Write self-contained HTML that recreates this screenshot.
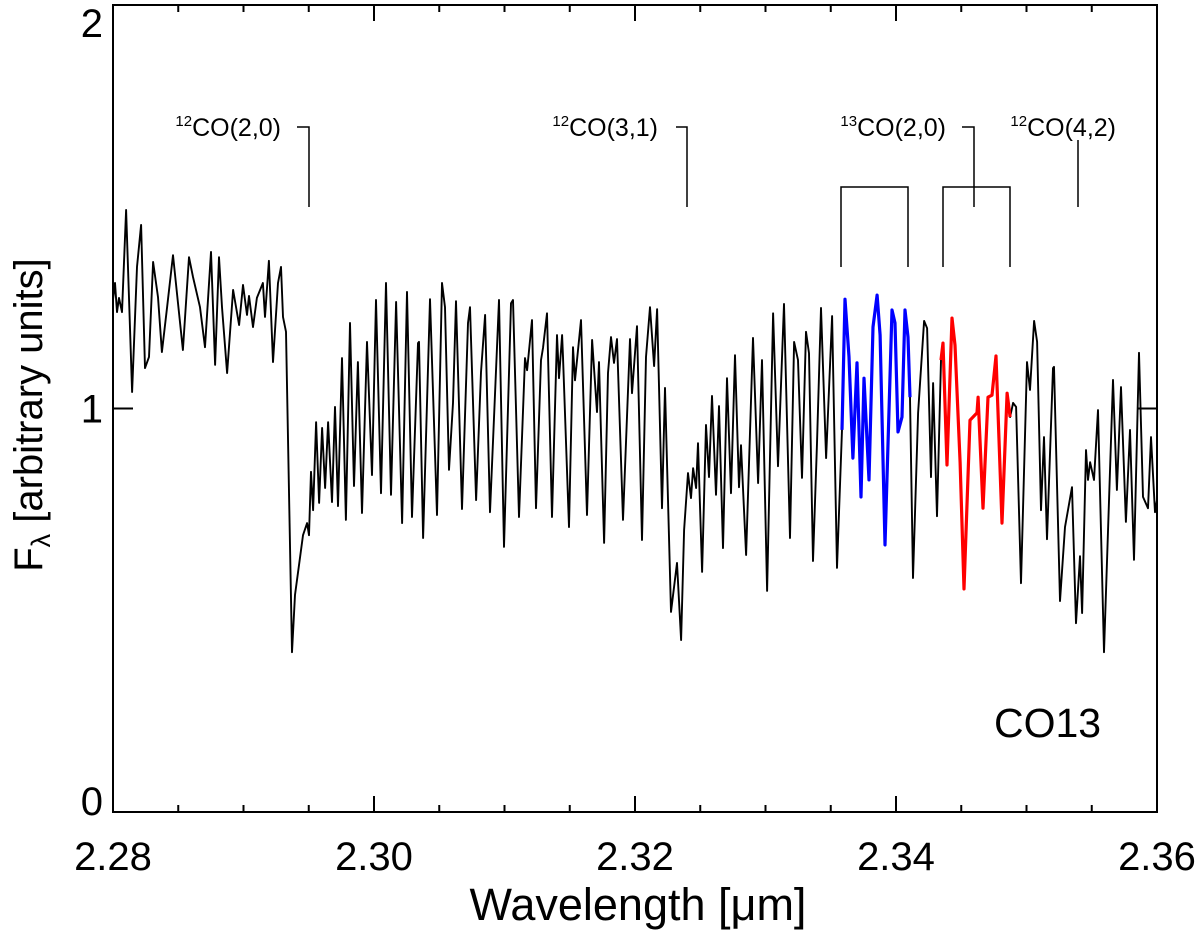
<!DOCTYPE html>
<html><head><meta charset="utf-8"><style>
html,body{margin:0;padding:0;background:#fff;}
svg{display:block;font-family:"Liberation Sans",sans-serif;}
</style></head><body>
<svg id="chart" width="1200" height="937">
<g id="frame"></g>
<g id="series"></g>
<g id="annot" font-size="25">
 <text x="281" y="136" text-anchor="end"><tspan font-size="15" dy="-10">12</tspan><tspan dy="10">CO(2,0)</tspan></text>
 <polyline points="297,127 309,127 309,207" fill="none" stroke="#000" stroke-width="1.5"/>
 <text x="658" y="136" text-anchor="end"><tspan font-size="15" dy="-10">12</tspan><tspan dy="10">CO(3,1)</tspan></text>
 <polyline points="676,127 687,127 687,207" fill="none" stroke="#000" stroke-width="1.5"/>
 <text x="946" y="136" text-anchor="end"><tspan font-size="15" dy="-10">13</tspan><tspan dy="10">CO(2,0)</tspan></text>
 <polyline points="962,127 974,127 974,207" fill="none" stroke="#000" stroke-width="1.5"/>
 <polyline points="841,267 841,187 908,187 908,267" fill="none" stroke="#000" stroke-width="1.5"/>
 <polyline points="943,267 943,187 1010,187 1010,267" fill="none" stroke="#000" stroke-width="1.5"/>
 <text x="1116" y="136" text-anchor="end"><tspan font-size="15" dy="-10">12</tspan><tspan dy="10">CO(4,2)</tspan></text>
 <line x1="1078" y1="140" x2="1078" y2="207" stroke="#000" stroke-width="1.5"/>
 <text x="994" y="737" font-size="41">CO13</text>
</g>
<text x="638" y="920" font-size="45" text-anchor="middle">Wavelength [μm]</text>
<text transform="translate(42,415) rotate(-90)" font-size="40" text-anchor="middle">F<tspan font-size="27" dy="8">λ</tspan><tspan dy="-8"> [arbitrary units]</tspan></text>
</svg>
<script>
const wave=[2.28,2.28015,2.28031,2.28046,2.28069,2.281,2.28146,2.28184,2.28215,2.28245,2.28276,2.28307,2.28345,2.28375,2.28414,2.2846,2.28498,2.28536,2.28582,2.28613,2.28667,2.28705,2.28751,2.28782,2.28812,2.28835,2.28874,2.2892,2.28966,2.28996,2.29027,2.29042,2.29073,2.29103,2.29149,2.29165,2.29195,2.29226,2.29264,2.29287,2.29303,2.29326,2.29372,2.29395,2.29425,2.29456,2.29487,2.29502,2.29517,2.29533,2.29556,2.29579,2.29602,2.29625,2.29648,2.29678,2.29701,2.29724,2.29755,2.29785,2.29816,2.29847,2.29877,2.29908,2.29946,2.29985,2.30015,2.30054,2.30092,2.3013,2.30169,2.30215,2.30253,2.30291,2.30337,2.30345,2.30376,2.30429,2.30483,2.30521,2.30544,2.30575,2.30605,2.30628,2.30674,2.3072,2.30736,2.30782,2.3082,2.30851,2.30889,2.30958,2.30996,2.3105,2.31065,2.31111,2.31157,2.31173,2.31211,2.31241,2.3128,2.31295,2.31326,2.31364,2.31402,2.31418,2.31441,2.31448,2.31494,2.31525,2.3154,2.31586,2.31632,2.31671,2.31709,2.31724,2.31763,2.31793,2.31816,2.31839,2.31862,2.31908,2.31962,2.31977,2.32015,2.32054,2.32084,2.32115,2.32146,2.32169,2.32207,2.3223,2.32276,2.32322,2.32353,2.32376,2.32406,2.32429,2.32445,2.32468,2.32483,2.32514,2.32544,2.32567,2.3259,2.32621,2.32644,2.32674,2.32705,2.32736,2.32766,2.32797,2.32812,2.32851,2.32904,2.32943,2.32973,2.33012,2.33058,2.33096,2.33142,2.33188,2.33219,2.33249,2.3328,2.3331,2.33333,2.33364,2.33395,2.33425,2.33464,2.3351,2.33548,2.33586,2.33609,2.3364,2.3367,2.33701,2.33732,2.33755,2.33793,2.33824,2.33855,2.33878,2.33916,2.33969,2.33992,2.34015,2.34046,2.34069,2.34092,2.34107,2.3413,2.34169,2.34215,2.34238,2.34268,2.34284,2.34314,2.34345,2.3436,2.34391,2.34429,2.34452,2.34491,2.34521,2.34567,2.34621,2.34629,2.34667,2.34705,2.34736,2.34766,2.34812,2.34851,2.34874,2.34897,2.3492,2.34958,2.35004,2.35027,2.35058,2.35081,2.35111,2.35134,2.35157,2.35203,2.35211,2.35257,2.35295,2.35349,2.35379,2.3541,2.35426,2.35456,2.35471,2.35487,2.35517,2.35548,2.35594,2.35663,2.35693,2.35724,2.35762,2.35793,2.35824,2.35862,2.35893,2.35931,2.35954,2.35985,2.36];
const flux=[1.27,1.311,1.239,1.274,1.239,1.492,1.041,1.351,1.455,1.1,1.128,1.363,1.276,1.14,1.249,1.38,1.261,1.145,1.375,1.326,1.251,1.152,1.388,1.108,1.375,1.251,1.088,1.294,1.207,1.306,1.232,1.279,1.202,1.274,1.311,1.227,1.366,1.115,1.311,1.351,1.227,1.19,0.396,0.538,0.612,0.686,0.716,0.686,0.843,0.748,0.966,0.766,0.952,0.803,0.966,0.768,1.004,0.758,1.125,0.724,1.212,0.808,1.115,0.741,1.165,0.835,1.269,0.79,1.311,0.786,1.264,0.716,1.289,0.731,1.162,1.165,0.679,1.271,0.736,1.311,1.251,0.848,1.014,1.266,0.751,1.212,1.251,0.773,1.09,1.232,0.743,1.269,0.657,1.261,1.269,0.731,1.125,1.095,1.219,0.753,1.12,1.15,1.236,0.731,1.182,1.075,1.182,1.128,0.706,1.152,1.07,1.219,0.736,1.17,0.991,1.115,0.667,1.088,1.177,1.113,1.172,0.724,1.172,1.038,1.204,0.674,1.128,1.251,1.105,1.246,0.753,1.051,0.496,0.617,0.426,0.699,0.84,0.778,0.852,0.803,0.914,0.595,0.959,0.83,1.031,0.786,1.006,0.654,1.075,0.79,1.132,0.805,0.909,0.637,1.175,0.815,1.12,0.548,1.236,0.857,1.259,0.679,1.165,1.12,0.828,1.19,1.137,0.622,0.914,1.249,0.877,1.229,0.605,0.947,1.271,1.128,0.877,1.113,0.781,1.075,0.823,1.202,1.281,1.182,0.662,1.244,1.212,0.942,0.979,1.244,1.177,1.028,0.58,0.989,1.217,1.199,0.83,1.063,0.733,1.12,1.162,0.86,1.224,1.157,0.867,0.553,0.971,0.989,1.028,0.753,1.028,1.033,1.13,0.716,1.038,0.979,1.014,1.004,0.567,1.115,1.046,1.217,1.165,0.748,0.929,0.676,1.1,1.103,0.523,0.706,0.805,0.468,0.634,0.493,0.897,0.823,0.867,0.823,0.996,0.396,1.071,0.798,1.053,0.719,0.947,0.625,1.138,0.781,0.753,0.929,0.743,0.773];
const blueRange=[2.33586,2.34107];
const redRange=[2.34345,2.34874];
const xTickLabels=["2.28","2.30","2.32","2.34","2.36"];
const xTickValues=[2.28,2.30,2.32,2.34,2.36];
const yTickLabels=["0","1","2"];
const yTickValues=[0,1,2];

const NS="http://www.w3.org/2000/svg";
const X0=113,X1=1157,Y0=812,Y1=5;
const xs=v=>X0+(v-2.28)/(0.08)*(X1-X0);
const ys=v=>Y0-(v/2)*(Y0-Y1);
function mk(tag,attrs,parent){const e=document.createElementNS(NS,tag);for(const k in attrs)e.setAttribute(k,attrs[k]);parent.appendChild(e);return e;}
const frame=document.getElementById('frame');
const box=mk('rect',{x:X0,y:Y1,width:X1-X0,height:Y0-Y1,fill:'none',stroke:'#000','stroke-width':2},frame);


for(let i=0;i<=16;i++){
  const v=2.28+i*0.005, x=xs(v), major=(i%4===0), L=major?16:7;
  const t1=mk('line',{x1:x,y1:Y0,x2:x,y2:Y0-L,stroke:'#000','stroke-width':2},frame);
  
  
  const t2=mk('line',{x1:x,y1:Y1,x2:x,y2:Y1+L,stroke:'#000','stroke-width':2},frame);
  
  
}
xTickValues.forEach((v,i)=>{
  const t=mk('text',{x:xs(v),y:870,'font-size':40,'text-anchor':'middle'},frame);
  t.textContent=xTickLabels[i];
  
  
});
yTickValues.forEach((v,i)=>{
  const y=ys(v);
  const a=mk('line',{x1:X0,y1:y,x2:X0+20,y2:y,stroke:'#000','stroke-width':2},frame);
  
  
  const b=mk('line',{x1:X1-20,y1:y,x2:X1,y2:y,stroke:'#000','stroke-width':2},frame);
  
  
  const ty=Math.min(Math.max(y+14,37),815);
  const t=mk('text',{x:103,y:ty,'font-size':40,'text-anchor':'end'},frame);
  t.textContent=yTickLabels[i];
  
  
});
const series=document.getElementById('series');
function pts(lo,hi){let s=[];for(let i=0;i<wave.length;i++){if(wave[i]>=lo&&wave[i]<=hi)s.push(xs(wave[i]).toFixed(1)+','+ys(flux[i]).toFixed(1));}return s.join(' ');}
const main=mk('polyline',{points:pts(-1,9),fill:'none',stroke:'#000','stroke-width':1.9,'stroke-linejoin':'round'},series);


const blue=mk('polyline',{points:pts(blueRange[0],blueRange[1]),fill:'none',stroke:'#0000ff','stroke-width':3.2,'stroke-linejoin':'round'},series);


const red=mk('polyline',{points:pts(redRange[0],redRange[1]),fill:'none',stroke:'#ff0000','stroke-width':3.2,'stroke-linejoin':'round'},series);


</script>
</body></html>
